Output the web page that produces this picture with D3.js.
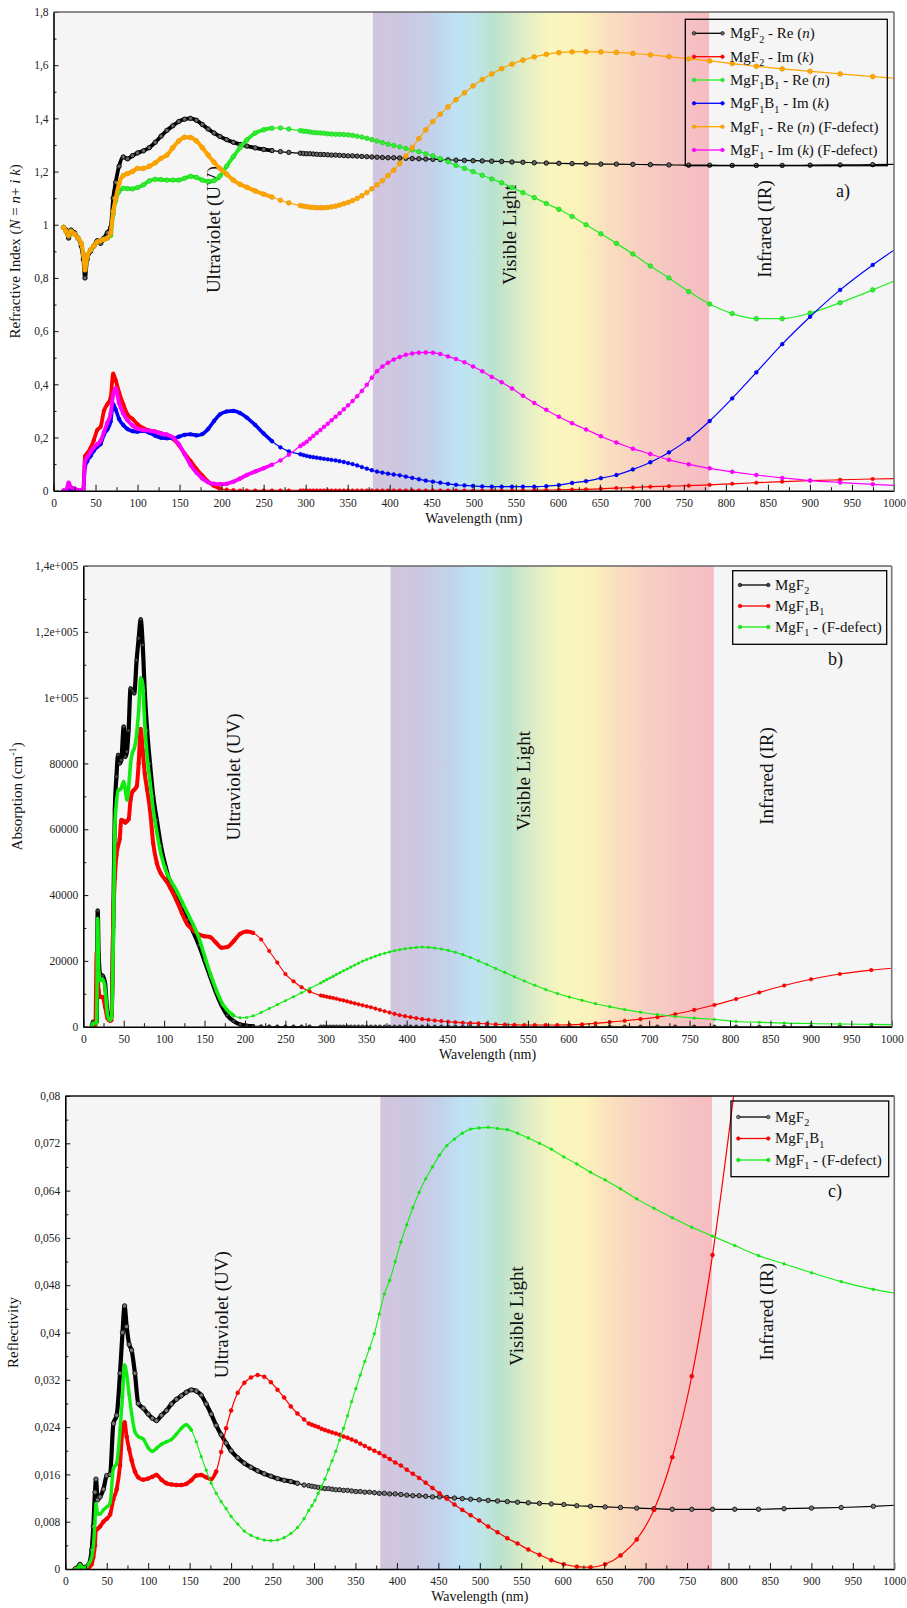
<!DOCTYPE html>
<html><head><meta charset="utf-8">
<script src="https://cdn.jsdelivr.net/npm/d3@7"></script>
<style>
body{margin:0;background:#fff}
svg{display:block}
text{font-family:"Liberation Serif","Times New Roman",serif;white-space:pre}
</style>
</head><body>
<svg id="chart" width="907" height="1608" font-family="Liberation Serif, serif"></svg>
<script>
// ---------------- DATA ----------------
// shared sampling wavelengths (nm) of the visible / IR part (marker positions)
const gridNm = [293.7, 297.4, 301.2, 305.1, 309.1, 313.2, 317.5, 321.8, 326.3, 330.8,
 335.6, 340.4, 345.4, 350.5, 355.8, 361.3, 366.9, 372.8, 378.7, 384.9,
 391.3, 398.0, 404.8, 411.9, 419.2, 426.8, 434.7, 442.9, 451.4, 460.2,
 469.4, 478.9, 488.9, 499.2, 510.1, 521.4, 533.2, 545.5, 558.5, 572.0,
 586.3, 601.3, 617.0, 633.6, 651.2, 669.7, 689.3, 710.1, 732.2, 755.7,
 780.7, 807.5, 836.2, 867.0, 900.2, 935.9, 974.7, 1016.8];

// ---- panel a : refractive index ----
const uvA = [12, 15, 18, 21, 25, 29, 33, 35.5, 37.5, 40,
 44, 48, 52, 56, 60, 64, 68, 71, 74, 78,
 83, 88, 94, 100, 107, 114, 121, 128, 135, 142,
 149, 156, 163, 170, 177, 184, 191, 198, 206, 214,
 222, 230, 240, 250, 260, 270, 280];
const aReMgF2 = [0.99, 0.98, 0.95, 0.98, 0.97, 0.95, 0.92, 0.87, 0.80, 0.87,
 0.90, 0.92, 0.94, 0.93, 0.95, 0.97, 0.99, 1.10, 1.16, 1.22,
 1.255, 1.248, 1.26, 1.27, 1.278, 1.29, 1.31, 1.333, 1.355, 1.372,
 1.388, 1.397, 1.400, 1.393, 1.377, 1.36, 1.345, 1.332, 1.32, 1.31,
 1.302, 1.296, 1.289, 1.283, 1.279, 1.275, 1.272,
 1.269, 1.268, 1.267, 1.267, 1.266, 1.265, 1.264, 1.264, 1.263, 1.262,
 1.262, 1.261, 1.260, 1.259, 1.259, 1.258, 1.257, 1.256, 1.255, 1.254,
 1.253, 1.252, 1.252, 1.251, 1.250, 1.249, 1.248, 1.247, 1.246, 1.245,
 1.244, 1.243, 1.242, 1.241, 1.240, 1.239, 1.238, 1.236, 1.235, 1.233,
 1.232, 1.231, 1.230, 1.229, 1.228, 1.228, 1.227, 1.226, 1.225, 1.224,
 1.224, 1.223, 1.223, 1.223, 1.224, 1.225, 1.226, 1.228];
const aImMgF2 = [0, 0, 0.015, 0.005, 0, 0, 0, 0.005, 0.13, 0.14,
 0.16, 0.19, 0.228, 0.24, 0.30, 0.325, 0.35, 0.44, 0.415, 0.37,
 0.325, 0.287, 0.27, 0.25, 0.235, 0.226, 0.222, 0.216, 0.207, 0.195,
 0.172, 0.14, 0.112, 0.082, 0.057, 0.034, 0.018, 0.008, 0.004, 0.002,
 0.001, 0.001, 0.001, 0.001, 0.001, 0.001, 0.001,
 0.001, 0.001, 0.001, 0.001, 0.001, 0.001, 0.001, 0.001, 0.001, 0.001,
 0.001, 0.001, 0.001, 0.001, 0.001, 0.001, 0.001, 0.001, 0.001, 0.001,
 0.001, 0.001, 0.001, 0.001, 0.001, 0.001, 0.001, 0.001, 0.001, 0.001,
 0.001, 0.001, 0.001, 0.001, 0.001, 0.001, 0.001, 0.001, 0.0015, 0.002,
 0.0025, 0.003, 0.004, 0.005, 0.007, 0.010, 0.012, 0.015, 0.017, 0.019,
 0.022, 0.026, 0.030, 0.034, 0.038, 0.041, 0.044, 0.046];
const aReMgF1B1 = [0.99, 0.975, 0.96, 0.975, 0.965, 0.95, 0.93, 0.89, 0.84, 0.88,
 0.905, 0.92, 0.935, 0.94, 0.945, 0.95, 0.96, 1.04, 1.09, 1.125,
 1.137, 1.136, 1.135, 1.14, 1.15, 1.165, 1.171, 1.17, 1.168, 1.168,
 1.168, 1.175, 1.182, 1.178, 1.168, 1.163, 1.166, 1.183, 1.22, 1.256,
 1.29, 1.319, 1.345, 1.357, 1.363, 1.364, 1.36,
 1.354, 1.352, 1.351, 1.349, 1.347, 1.346, 1.345, 1.344, 1.342, 1.341,
 1.340, 1.340, 1.339, 1.338, 1.336, 1.333, 1.330, 1.325, 1.320, 1.315,
 1.309, 1.303, 1.298, 1.293, 1.287, 1.281, 1.275, 1.267, 1.259, 1.249,
 1.237, 1.223, 1.212, 1.200, 1.186, 1.172, 1.158, 1.140, 1.121, 1.102,
 1.080, 1.058, 1.031, 1.000, 0.966, 0.930, 0.890, 0.845, 0.800, 0.749,
 0.702, 0.666, 0.647, 0.647, 0.668, 0.707, 0.755, 0.81];
const aImMgF1B1 = [0, 0, 0.01, 0.005, 0, 0, 0, 0.005, 0.09, 0.11,
 0.13, 0.15, 0.165, 0.175, 0.21, 0.23, 0.26, 0.325, 0.305, 0.27,
 0.247, 0.232, 0.224, 0.222, 0.225, 0.218, 0.207, 0.199, 0.197, 0.197,
 0.203, 0.21, 0.212, 0.208, 0.213, 0.232, 0.262, 0.287, 0.298, 0.30,
 0.292, 0.275, 0.247, 0.215, 0.186, 0.163, 0.148,
 0.137, 0.134, 0.131, 0.128, 0.126, 0.124, 0.122, 0.120, 0.118, 0.116,
 0.114, 0.111, 0.108, 0.104, 0.100, 0.095, 0.089, 0.083, 0.077, 0.072,
 0.068, 0.064, 0.061, 0.058, 0.053, 0.048, 0.043, 0.038, 0.034, 0.030,
 0.026, 0.022, 0.020, 0.018, 0.016, 0.015, 0.015, 0.015, 0.015, 0.015,
 0.017, 0.021, 0.029, 0.036, 0.047, 0.059, 0.080, 0.107, 0.144, 0.194,
 0.262, 0.347, 0.445, 0.551, 0.654, 0.755, 0.849, 0.94];
const aReMgF1 = [0.99, 0.975, 0.96, 0.975, 0.965, 0.95, 0.93, 0.89, 0.83, 0.88,
 0.905, 0.92, 0.935, 0.94, 0.945, 0.95, 0.97, 1.05, 1.10, 1.155,
 1.185, 1.192, 1.20, 1.212, 1.212, 1.22, 1.233, 1.25, 1.262, 1.29,
 1.315, 1.329, 1.328, 1.315, 1.29, 1.262, 1.235, 1.212, 1.19, 1.168,
 1.152, 1.141, 1.127, 1.115, 1.104, 1.092, 1.082,
 1.072, 1.070, 1.068, 1.066, 1.065, 1.064, 1.064, 1.064, 1.065, 1.067,
 1.070, 1.074, 1.079, 1.084, 1.091, 1.099, 1.109, 1.121, 1.135, 1.150,
 1.166, 1.185, 1.205, 1.230, 1.258, 1.290, 1.324, 1.357, 1.388, 1.416,
 1.443, 1.470, 1.496, 1.522, 1.546, 1.567, 1.587, 1.604, 1.619, 1.631,
 1.641, 1.647, 1.650, 1.651, 1.650, 1.648, 1.644, 1.639, 1.632, 1.624,
 1.616, 1.606, 1.596, 1.586, 1.577, 1.567, 1.557, 1.547];
const aImMgF1 = [0, 0, 0.03, 0.012, 0.008, 0.002, 0, 0.005, 0.11, 0.125,
 0.145, 0.163, 0.175, 0.187, 0.22, 0.255, 0.29, 0.36, 0.385, 0.33,
 0.29, 0.265, 0.245, 0.233, 0.228, 0.226, 0.222, 0.215, 0.211, 0.2,
 0.175, 0.137, 0.097, 0.068, 0.046, 0.032, 0.026, 0.025, 0.026, 0.034,
 0.046, 0.059, 0.072, 0.084, 0.098, 0.114, 0.135,
 0.168, 0.176, 0.184, 0.195, 0.206, 0.217, 0.228, 0.240, 0.252, 0.265,
 0.278, 0.291, 0.306, 0.321, 0.337, 0.355, 0.375, 0.398, 0.425, 0.449,
 0.467, 0.481, 0.493, 0.503, 0.511, 0.516, 0.519, 0.520, 0.519, 0.514,
 0.505, 0.495, 0.483, 0.467, 0.449, 0.428, 0.408, 0.384, 0.357, 0.330,
 0.304, 0.278, 0.254, 0.230, 0.205, 0.181, 0.158, 0.138, 0.116, 0.099,
 0.084, 0.071, 0.059, 0.048, 0.038, 0.031, 0.024, 0.018];

// ---- panel b : absorption (cm^-1) ----
const uvB = [10.5, 12, 15, 16.5, 17.8, 19, 21, 24, 27, 30,
 33, 35, 37, 39, 41, 43, 45, 47, 50, 52,
 54, 56, 58.5, 61, 63, 66, 68.5, 71, 73.5, 76,
 79, 82.5, 86.5, 91, 96, 102, 108, 115, 122, 129,
 136, 143, 150, 157, 164, 171, 178, 186, 194, 202,
 210, 220, 230, 240, 250, 260, 270, 280];
const bMgF2 = [0, 1500, 1500, 1500, 35300, 22000, 16000, 15500, 13000, 4000,
 2500, 3500, 30400, 65900, 76000, 82600, 80000, 81000, 91200, 82000,
 83600, 90000, 102800, 102000, 101300, 111400, 118000, 123800, 116000, 102000,
 90000, 80000, 70000, 62800, 55000, 48500, 43500, 40500, 36500, 32500,
 28800, 24800, 20000, 15200, 10500, 6500, 3500, 1700, 700, 300,
 150, 80, 50, 30, 20, 10, 10, 10,
 0, 0, 0, 0, 0, 0, 0, 0, 0, 0,
 0, 0, 0, 0, 0, 0, 0, 0, 0, 0,
 0, 0, 0, 0, 0, 0, 0, 0, 0, 0,
 0, 0, 0, 0, 0, 0, 0, 0, 0, 0,
 0, 0, 0, 0, 0, 0, 0, 0, 0, 0,
 0, 0, 0, 0, 0, 0, 0, 0];
const bMgF1B1 = [0, 500, 500, 22300, 15000, 11000, 9000, 9000, 6000, 2500,
 1800, 2000, 32400, 45000, 52000, 55000, 57000, 62800, 62500, 62000,
 62500, 63000, 69000, 71500, 72000, 73000, 80000, 90500, 84000, 77000,
 72000, 65900, 55700, 49700, 46500, 44500, 42000, 38500, 34500, 31000,
 29400, 28000, 27500, 27200, 25600, 24000, 24200, 26000, 28200, 28900,
 28500, 26500, 23000, 19500, 16000, 13800, 12000, 10700,
 9500, 9300, 9100, 8900, 8700, 8500, 8200, 8000, 7700, 7400,
 7100, 6800, 6500, 6200, 5900, 5500, 5100, 4700, 4300, 3900,
 3500, 3200, 2900, 2600, 2300, 2100, 1900, 1700, 1500, 1350,
 1200, 1100, 1000, 900, 750, 650, 550, 500, 500, 500,
 500, 550, 700, 1000, 1400, 1800, 2300, 2900, 3800, 5100,
 6600, 8400, 10400, 12500, 14400, 16000, 17200, 18100];
const bMgF1 = [0, 1000, 1000, 1000, 32900, 17000, 14000, 14500, 11500, 3500,
 2000, 2500, 25000, 60800, 68000, 71900, 72000, 72500, 74500, 72000,
 68900, 72500, 80000, 83500, 84500, 89000, 96000, 106000, 104000, 92000,
 82000, 74500, 66000, 59000, 52500, 47500, 44500, 41500, 38000, 34500,
 31000, 27000, 21500, 16200, 11500, 7500, 5000, 3400, 2700, 2800,
 3300, 4300, 5500, 6700, 7900, 9100, 10300, 11600,
 13300, 13800, 14300, 14800, 15300, 15900, 16400, 17000, 17500, 18100,
 18700, 19300, 19900, 20400, 20900, 21400, 21900, 22300, 22700, 23100,
 23400, 23700, 23900, 24100, 24200, 24100, 23900, 23600, 23200, 22600,
 21900, 21000, 20000, 18900, 17700, 16500, 15200, 13900, 12600, 11300,
 10100, 9000, 8000, 7000, 6100, 5200, 4400, 3700, 3100, 2600,
 2200, 1600, 1350, 1100, 950, 800, 700, 600];

// ---- panel c : reflectivity ----
const uvC = [11.7, 15, 17.7, 20, 24, 28, 31.8, 33.8, 35.8, 37,
 39, 42, 46, 50, 54, 58, 62, 66, 69, 71.5,
 74, 77, 80, 84, 88, 94, 100, 105, 110, 116,
 122, 128, 134, 140, 146, 152, 158, 164, 170, 176,
 182, 188, 194, 200, 208, 216, 224, 232, 240, 248,
 256, 264, 272, 280, 288];
const cMgF2 = [0, 0.0003, 0.0008, 0.0004, 0.0003, 0.0007, 0.0032, 0.0072, 0.013, 0.0152,
 0.0117, 0.0122, 0.0135, 0.0158, 0.016, 0.0246, 0.026, 0.0331, 0.040, 0.0445,
 0.041, 0.038, 0.037, 0.0331, 0.028, 0.0272, 0.0262, 0.0255, 0.0251, 0.026,
 0.0268, 0.0279, 0.0287, 0.0293, 0.0299, 0.0303, 0.0301, 0.0294, 0.0279, 0.0262,
 0.0243, 0.0227, 0.0213, 0.0200, 0.0188, 0.0179, 0.0172, 0.0166, 0.0161, 0.0157,
 0.0153, 0.0150, 0.0148, 0.0145, 0.0142,
 0.0141, 0.0140, 0.0139, 0.0138, 0.0137, 0.0136, 0.0136, 0.0135, 0.0134, 0.0134,
 0.0133, 0.0133, 0.0132, 0.0131, 0.0131, 0.0130, 0.0130, 0.0129, 0.0128, 0.0128,
 0.0127, 0.0127, 0.0126, 0.0125, 0.0124, 0.0124, 0.0123, 0.0122, 0.0122, 0.0121,
 0.0120, 0.0119, 0.0118, 0.0117, 0.0116, 0.0115, 0.0114, 0.0113, 0.0112, 0.0111,
 0.0110, 0.0109, 0.0107, 0.0106, 0.0105, 0.0104, 0.0103, 0.0102, 0.0101, 0.0101,
 0.0101, 0.0101, 0.0101, 0.0102, 0.0103, 0.0104, 0.0106, 0.0109];
const cMgF1B1 = [0, 0, 0.0002, 0.0001, 0, 0.0002, 0.0008, 0.002, 0.004, 0.0066,
 0.0068, 0.0072, 0.008, 0.0085, 0.0092, 0.0118, 0.0135, 0.0175, 0.0235, 0.0248,
 0.0224, 0.0203, 0.0184, 0.0165, 0.0155, 0.0151, 0.0153, 0.0156, 0.0159, 0.0151,
 0.0145, 0.0143, 0.0142, 0.0142, 0.0144, 0.015, 0.0158, 0.0159, 0.0155, 0.0152,
 0.0165, 0.0198, 0.0238, 0.0268, 0.0298, 0.0315, 0.0324, 0.0328, 0.0325, 0.0316,
 0.0303, 0.029, 0.0275, 0.0263, 0.0253,
 0.0246, 0.0244, 0.0242, 0.0240, 0.0237, 0.0235, 0.0233, 0.0231, 0.0229, 0.0227,
 0.0224, 0.0222, 0.0219, 0.0216, 0.0212, 0.0208, 0.0204, 0.0200, 0.0196, 0.0191,
 0.0186, 0.0180, 0.0175, 0.0168, 0.0161, 0.0154, 0.0146, 0.0137, 0.0128, 0.0119,
 0.0109, 0.0100, 0.0091, 0.0082, 0.0072, 0.0062, 0.0052, 0.0043, 0.0033, 0.0024,
 0.0015, 0.0008, 0.0004, 0.0003, 0.0008, 0.0023, 0.0050, 0.0100, 0.0189, 0.0326,
 0.0531, 0.0815, null, null, null, null, null, null];
const cMgF1 = [0, 0, 0.0007, 0.0003, 0.0002, 0.0008, 0.002, 0.0038, 0.008, 0.0111,
 0.0093, 0.0093, 0.010, 0.0105, 0.0111, 0.017, 0.0179, 0.0235, 0.0291, 0.0345,
 0.033, 0.0295, 0.0263, 0.0232, 0.0224, 0.022, 0.0205, 0.0199, 0.0204, 0.0211,
 0.0215, 0.0219, 0.0228, 0.0238, 0.0244, 0.0235, 0.0215, 0.019, 0.0167, 0.0145,
 0.0128, 0.0114, 0.0102, 0.0089, 0.0076, 0.0064, 0.0057, 0.0052, 0.0049, 0.0048,
 0.0049, 0.0053, 0.006, 0.007, 0.0085,
 0.0099, 0.0107, 0.0116, 0.0128, 0.0140, 0.0152, 0.0168, 0.0183, 0.0199, 0.0218,
 0.0238, 0.0259, 0.0283, 0.0305, 0.0328, 0.0351, 0.0373, 0.0398, 0.0431, 0.0465,
 0.0488, 0.0520, 0.0553, 0.0582, 0.0611, 0.0637, 0.0660, 0.0680, 0.0700, 0.0716,
 0.0727, 0.0737, 0.0744, 0.0746, 0.0747, 0.0745, 0.0743, 0.0737, 0.0729, 0.0720,
 0.0710, 0.0697, 0.0685, 0.0671, 0.0658, 0.0643, 0.0626, 0.0610, 0.0594, 0.0578,
 0.0563, 0.0547, 0.0530, 0.0516, 0.0501, 0.0486, 0.0473, 0.0463];

// ticks
const xTicks = [0,50,100,150,200,250,300,350,400,450,500,550,600,650,700,750,800,850,900,950,1000];
const aYTicks = [0,0.2,0.4,0.6,0.8,1,1.2,1.4,1.6,1.8];
const aYLabels = ["0","0,2","0,4","0,6","0,8","1","1,2","1,4","1,6","1,8"];
const bYTicks = [0,20000,40000,60000,80000,100000,120000,140000];
const bYLabels = ["0","20000","40000","60000","80000","1e+005","1,2e+005","1,4e+005"];
const cYTicks = [0,0.008,0.016,0.024,0.032,0.04,0.048,0.056,0.064,0.072,0.08];
const cYLabels = ["0","0,008","0,016","0,024","0,032","0,04","0,048","0,056","0,064","0,072","0,08"];

// spectrum band (visible light, 380-780 nm)
const specNm = [380, 420, 455, 480, 500, 525, 560, 590, 625, 660, 700, 740, 780];
const specColor = ["#d3c5de","#cbc8e1","#c2d3eb","#bde3f5","#bfe4ea","#bae2cd","#e1edc5","#f8f6be","#fbf3bc","#fadfbe","#f8cfc2","#f6c4c3","#f6bcc1"];

// region labels
const regionText = ["Ultraviolet (UV)", "Visible Light", "Infrared (IR)"];

// legend labels
const legA = [
 [{t:"MgF"},{t:"2",sub:1},{t:" - Re ("},{t:"n",it:1},{t:")"}],
 [{t:"MgF"},{t:"2",sub:1},{t:" - Im ("},{t:"k",it:1},{t:")"}],
 [{t:"MgF"},{t:"1",sub:1},{t:"B"},{t:"1",sub:1},{t:" - Re ("},{t:"n",it:1},{t:")"}],
 [{t:"MgF"},{t:"1",sub:1},{t:"B"},{t:"1",sub:1},{t:" - Im ("},{t:"k",it:1},{t:")"}],
 [{t:"MgF"},{t:"1",sub:1},{t:" - Re ("},{t:"n",it:1},{t:") (F-defect)"}],
 [{t:"MgF"},{t:"1",sub:1},{t:" - Im ("},{t:"k",it:1},{t:") (F-defect)"}]
];
const legBC = [
 [{t:"MgF"},{t:"2",sub:1}],
 [{t:"MgF"},{t:"1",sub:1},{t:"B"},{t:"1",sub:1}],
 [{t:"MgF"},{t:"1",sub:1},{t:" - (F-defect)"}]
];

// ---------------- DRAWING ----------------
const FONT = "Liberation Serif, Times New Roman, serif";
const svg = d3.select("#chart");
const defs = svg.append("defs");
const grad = defs.append("linearGradient").attr("id","spec")
  .attr("x1","0").attr("x2","1").attr("y1","0").attr("y2","0");
specNm.forEach((w,i)=>grad.append("stop").attr("offset",(w-380)/400).attr("stop-color",specColor[i]));

function rich(sel, segs, fs){
  let shift = 0;
  segs.forEach(s=>{
    const target = s.sub ? fs*0.3 : s.sup ? -fs*0.4 : 0;
    const ts = sel.append("tspan").text(s.t).attr("dy", (target-shift).toFixed(2));
    shift = target;
    if (s.sub || s.sup) ts.attr("font-size", (fs*0.68).toFixed(1));
    if (s.it) ts.attr("font-style","italic");
  });
}

function drawPanel(p){
  const g = svg.append("g").attr("font-family",FONT);
  const x = d3.scaleLinear().domain([0,1000]).range([p.L,p.R]);
  const y = d3.scaleLinear().domain([0,p.yMax]).range([p.B,p.T]);
  const cid = "clip"+p.id;
  defs.append("clipPath").attr("id",cid).append("rect")
    .attr("x",p.L).attr("y",p.T).attr("width",p.R-p.L).attr("height",p.B-p.T);

  g.append("rect").attr("x",p.L).attr("y",p.T).attr("width",p.R-p.L).attr("height",p.B-p.T).attr("fill","#f5f5f5");
  g.append("rect").attr("x",x(380)).attr("y",p.T).attr("width",x(780)-x(380)).attr("height",p.B-p.T).attr("fill","url(#spec)");

  // region labels
  p.regions.forEach((r,i)=>{
    g.append("text").attr("transform",`translate(${x(r[0])},${y(r[1])}) rotate(-90)`)
      .attr("text-anchor","middle").attr("dominant-baseline","central")
      .attr("font-family",FONT).attr("font-size",19).attr("fill","#111").text(regionText[i]);
  });

  // series
  const pg = g.append("g").attr("clip-path",`url(#${cid})`);
  const line = d3.line().x(d=>x(d.w)).y(d=>y(d.v)).curve(d3.curveMonotoneX);
  p.series.forEach(s=>{
    const pts = s.wave.map((w,i)=>({w, v:s.vals[i]})).filter(d=>d.v!=null && d.v!==undefined);
    pg.append("path").datum(pts.filter(d=>d.w<=s.thickMax)).attr("d",line)
      .attr("fill","none").attr("stroke",s.color).attr("stroke-width",s.thickW)
      .attr("stroke-linejoin","round").attr("stroke-linecap","round");
    pg.append("path").datum(pts).attr("d",line)
      .attr("fill","none").attr("stroke",s.color).attr("stroke-width",s.lw);
    pg.append("g").selectAll("circle").data(pts).join("circle")
      .attr("cx",d=>x(d.w)).attr("cy",d=>y(d.v)).attr("r",s.r)
      .attr("fill",s.mfill).attr("stroke",s.mstroke).attr("stroke-width",s.msw);
  });

  // axes
  const xMinor = d3.range(25,1000,50);
  const xa = g.append("g").attr("transform",`translate(0,${p.B})`)
    .call(d3.axisBottom(x).tickValues(xTicks).tickSizeInner(-6).tickSizeOuter(0).tickPadding(8).tickFormat(d=>String(d)));
  const xm = g.append("g").attr("transform",`translate(0,${p.B})`)
    .call(d3.axisBottom(x).tickValues(xMinor).tickSizeInner(-3.5).tickSizeOuter(0).tickFormat(""));
  xm.select(".domain").remove();
  const ya = g.append("g").attr("transform",`translate(${p.L},0)`)
    .call(d3.axisLeft(y).tickValues(p.yTicks).tickSizeInner(-5).tickSizeOuter(0).tickPadding(5).tickFormat((d,i)=>p.yLabels[i]));
  const ym = g.append("g").attr("transform",`translate(${p.L},0)`)
    .call(d3.axisLeft(y).tickValues(p.yMinor).tickSizeInner(-3).tickSizeOuter(0).tickFormat(""));
  ym.select(".domain").remove();
  [xa,ya].forEach(a=>{
    a.attr("font-family",FONT);
    a.select(".domain").attr("stroke","#000").attr("stroke-width",1.6);
    a.selectAll("text").attr("font-family",FONT).attr("font-size",11.5).attr("fill","#222");
  });
  [xa,xm,ya,ym].forEach(a=>a.selectAll(".tick line").attr("stroke","#111").attr("stroke-width",1));

  // frame top/right
  g.append("line").attr("x1",p.L).attr("x2",p.R).attr("y1",p.T).attr("y2",p.T).attr("stroke",p.topColor).attr("stroke-width",1.6);
  g.append("line").attr("x1",p.R).attr("x2",p.R).attr("y1",p.T).attr("y2",p.B).attr("stroke","#777").attr("stroke-width",1.6);

  // axis titles
  g.append("text").attr("x",(p.L+p.R)/2).attr("y",p.B+32).attr("text-anchor","middle")
    .attr("font-family",FONT).attr("font-size",14).attr("fill","#111").text("Wavelength (nm)");
  const yt = g.append("text").attr("transform",`translate(${p.yTitleX},${(p.T+p.B)/2}) rotate(-90)`)
    .attr("text-anchor","middle").attr("font-family",FONT).attr("font-size",15).attr("fill","#111");
  rich(yt, p.yTitle, 15);

  // panel letter
  g.append("text").attr("x",p.letter[0]).attr("y",p.letter[1]).attr("font-family",FONT).attr("font-size",18).attr("fill","#111").text(p.letter[2]);

  // legend
  const lg = p.legend;
  g.append("rect").attr("x",lg.x0).attr("y",lg.y0).attr("width",lg.w).attr("height",lg.h)
    .attr("fill","none").attr("stroke","#000").attr("stroke-width",1.3);
  p.series.forEach((s,i)=>{
    const yy = lg.rows[i];
    g.append("line").attr("x1",lg.l1).attr("x2",lg.l2).attr("y1",yy).attr("y2",yy).attr("stroke",s.color).attr("stroke-width",1.3);
    [lg.l1,lg.l2].forEach(cx=>g.append("circle").attr("cx",cx).attr("cy",yy).attr("r",1.8).attr("fill",s.mfill).attr("stroke",s.mstroke).attr("stroke-width",0.6));
    const t = g.append("text").attr("x",lg.tx).attr("y",yy+4.8).attr("font-family",FONT).attr("font-size",15).attr("fill","#111");
    rich(t, lg.labels[i], 15);
  });
}

const waveA = uvA.concat(gridNm), waveB = uvB.concat(gridNm), waveC = uvC.concat(gridNm);

drawPanel({
  id:"a", L:53.5, R:894, T:12, B:490.7, yMax:1.8,
  yTicks:aYTicks, yLabels:aYLabels, yMinor:d3.range(0.1,1.8,0.2),
  topColor:"#666", yTitleX:20,
  yTitle:[{t:"Refractive Index ("},{t:"N",it:1},{t:" = "},{t:"n",it:1},{t:"+ "},{t:"i",it:1},{t:" "},{t:"k",it:1},{t:")"}],
  regions:[[190,0.982],[543,0.962],[846,0.984]],
  letter:[836,197,"a)"],
  series:[
    {wave:waveA, vals:aReMgF2, color:"#000", thickMax:262, thickW:3.8, lw:1.2, r:2.2, mfill:"#666", mstroke:"#000", msw:0.9},
    {wave:waveA, vals:aImMgF2, color:"#ff0000", thickMax:205, thickW:3.8, lw:1.2, r:1.8, mfill:"#ff0000", mstroke:"#e00", msw:0.5},
    {wave:waveA, vals:aReMgF1B1, color:"#22ee22", thickMax:262, thickW:3.8, lw:1.2, r:2.3, mfill:"#33ee33", mstroke:"#1c1", msw:0.6},
    {wave:waveA, vals:aImMgF1B1, color:"#0000ff", thickMax:262, thickW:3.6, lw:1.2, r:1.9, mfill:"#0000ff", mstroke:"#00d", msw:0.5},
    {wave:waveA, vals:aReMgF1, color:"#ffa500", thickMax:262, thickW:4, lw:1.2, r:2.4, mfill:"#ffa500", mstroke:"#e69400", msw:0.6},
    {wave:waveA, vals:aImMgF1, color:"#ff00ff", thickMax:262, thickW:3.8, lw:1.2, r:2, mfill:"#ff00ff", mstroke:"#e0e", msw:0.5}
  ],
  legend:{x0:685.3, y0:19.3, w:202, h:146.4, l1:694, l2:722.5, tx:730,
    rows:[33.3,56.7,80,103.3,126.7,150], labels:legA}
});

drawPanel({
  id:"b", L:83.3, R:891.7, T:566, B:1026.7, yMax:140000,
  yTicks:bYTicks, yLabels:bYLabels, yMinor:d3.range(10000,140000,20000),
  topColor:"#666", yTitleX:22,
  yTitle:[{t:"Absorption (cm"},{t:"-1",sup:1},{t:")"}],
  regions:[[186.4,75900],[545,74700],[845.7,76200]],
  letter:[828,665,"b)"],
  series:[
    {wave:waveB, vals:bMgF2, color:"#000", thickMax:215, thickW:4.2, lw:1.1, r:1.8, mfill:"#444", mstroke:"#000", msw:0.6},
    {wave:waveB, vals:bMgF1B1, color:"#ff0000", thickMax:215, thickW:4, lw:1.1, r:1.8, mfill:"#ff0000", mstroke:"#d00", msw:0.5},
    {wave:waveB, vals:bMgF1, color:"#11ee11", thickMax:190, thickW:3.6, lw:1.1, r:1.3, mfill:"#11ee11", mstroke:"#1c1", msw:0.4}
  ],
  legend:{x0:732.7, y0:570.7, w:154, h:73.6, l1:740, l2:768.3, tx:775,
    rows:[585,606,627], labels:legBC}
});

drawPanel({
  id:"c", L:65.3, R:894.3, T:1096, B:1569, yMax:0.08,
  yTicks:cYTicks, yLabels:cYLabels, yMinor:d3.range(0.004,0.08,0.008),
  topColor:"#111", yTitleX:18,
  yTitle:[{t:"Reflectivity"}],
  regions:[[189,0.0430],[543.7,0.0428],[846.4,0.0435]],
  letter:[828,1197,"c)"],
  series:[
    {wave:waveC, vals:cMgF2, color:"#000", thickMax:282, thickW:4.2, lw:1.2, r:2.2, mfill:"#777", mstroke:"#111", msw:0.9},
    {wave:waveC, vals:cMgF1B1, color:"#ff0000", thickMax:182, thickW:3.8, lw:1.2, r:2, mfill:"#ff0000", mstroke:"#d00", msw:0.5},
    {wave:waveC, vals:cMgF1, color:"#11ee11", thickMax:155, thickW:3.4, lw:1.1, r:1.4, mfill:"#11ee11", mstroke:"#1c1", msw:0.4}
  ],
  legend:{x0:731, y0:1101, w:157.7, h:75.7, l1:738.3, l2:768.3, tx:775,
    rows:[1117,1138.5,1160], labels:legBC}
});
</script>
</body></html>
